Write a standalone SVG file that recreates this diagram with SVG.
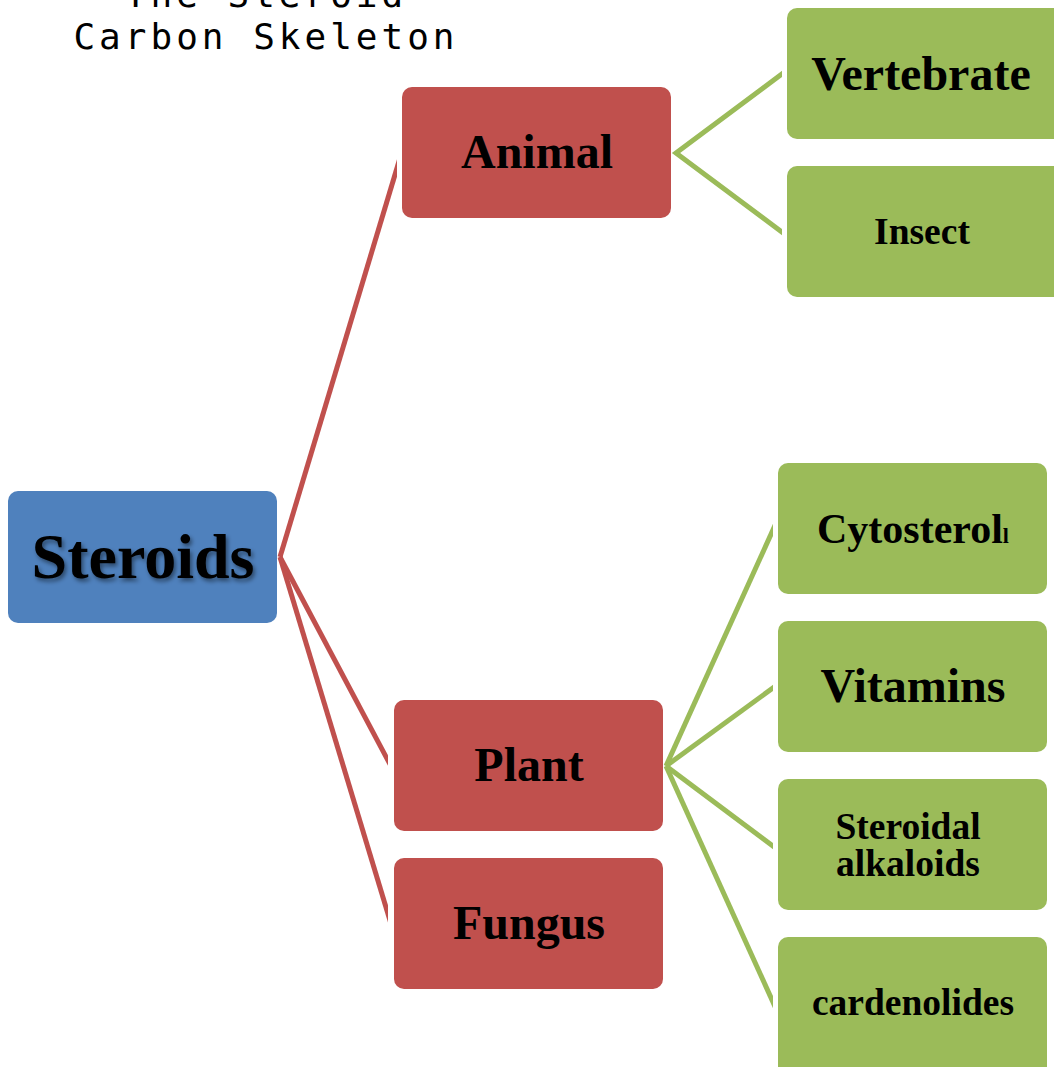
<svg xmlns="http://www.w3.org/2000/svg" width="1054" height="1067" viewBox="0 0 1054 1067">
<style>
.blue{fill:#4F81BD;}
.red{fill:#C0504D;}
.green{fill:#9BBB59;}
.t{font-family:"Liberation Serif","Times New Roman",serif;font-weight:bold;fill:#000;text-anchor:middle;}
.big{font-size:48px;}
.small{font-size:37.5px;}
.mono{font-family:"DejaVu Sans Mono","Liberation Mono",monospace;font-size:36px;letter-spacing:4px;fill:#000;text-anchor:middle;}
.cr{stroke:#C0504D;stroke-width:5;fill:none;}
.cg{stroke:#9BBB59;stroke-width:5;fill:none;}
</style>
<defs>
<filter id="sh" x="-10%" y="-20%" width="130%" height="150%">
<feDropShadow dx="2" dy="3" stdDeviation="2" flood-color="#000" flood-opacity="0.45"/>
</filter>
<clipPath id="clipRed"><rect x="0" y="0" width="388" height="1067"/></clipPath>
<clipPath id="clipRedA"><rect x="0" y="0" width="397" height="1067"/></clipPath>
<clipPath id="clipGA"><rect x="0" y="0" width="782" height="1067"/></clipPath>
<clipPath id="clipGP"><rect x="0" y="0" width="773" height="1067"/></clipPath>
</defs>
<rect width="1054" height="1067" fill="#fff"/>
<g id="title">
<text class="mono" x="266" y="7">The Steroid</text>
<text class="mono" x="266" y="49">Carbon Skeleton</text>
</g>
<g id="connectors">
<line class="cr" x1="280" y1="557" x2="400" y2="158" clip-path="url(#clipRedA)"/>
<line class="cr" x1="280" y1="557" x2="392" y2="768" clip-path="url(#clipRed)"/>
<line class="cr" x1="280" y1="557" x2="392" y2="927" clip-path="url(#clipRed)"/>
<g clip-path="url(#clipGA)">
<polyline class="cg" points="786,71 676,153 786,235"/>
</g>
<g clip-path="url(#clipGP)">
<line class="cg" x1="666" y1="766" x2="777" y2="521"/>
<line class="cg" x1="666" y1="766" x2="777" y2="685"/>
<line class="cg" x1="666" y1="766" x2="777" y2="849"/>
<line class="cg" x1="666" y1="766" x2="777" y2="1011"/>
</g>
</g>
<g id="steroids">
<rect class="blue" x="8" y="491" width="269" height="132" rx="10"/>
<text class="t" x="143" y="578" font-size="64" filter="url(#sh)">Steroids</text>
</g>
<g id="animal">
<rect class="red" x="402" y="87" width="269" height="131" rx="10"/>
<text class="t big" x="537" y="168">Animal</text>
</g>
<g id="plant">
<rect class="red" x="394" y="700" width="269" height="131" rx="10"/>
<text class="t big" x="529" y="781">Plant</text>
</g>
<g id="fungus">
<rect class="red" x="394" y="858" width="269" height="131" rx="10"/>
<text class="t big" x="529" y="939">Fungus</text>
</g>
<g id="vertebrate">
<rect class="green" x="787" y="8" width="280" height="131" rx="10"/>
<text class="t big" x="921" y="90">Vertebrate</text>
</g>
<g id="insect">
<rect class="green" x="787" y="166" width="280" height="131" rx="10"/>
<text class="t small" x="922" y="244">Insect</text>
</g>
<g id="cytosterol">
<rect class="green" x="778" y="463" width="269" height="131" rx="10"/>
<text class="t" x="913" y="543" font-size="42">Cytosterol<tspan font-size="22">l</tspan></text>
</g>
<g id="vitamins">
<rect class="green" x="778" y="621" width="269" height="131" rx="10"/>
<text class="t big" x="913" y="702">Vitamins</text>
</g>
<g id="alkaloids">
<rect class="green" x="778" y="779" width="269" height="131" rx="10"/>
<text class="t small" x="908" y="839">Steroidal</text>
<text class="t small" x="908" y="876">alkaloids</text>
</g>
<g id="cardenolides">
<rect class="green" x="778" y="937" width="269" height="140" rx="10"/>
<text class="t small" x="913" y="1015">cardenolides</text>
</g>
</svg>
